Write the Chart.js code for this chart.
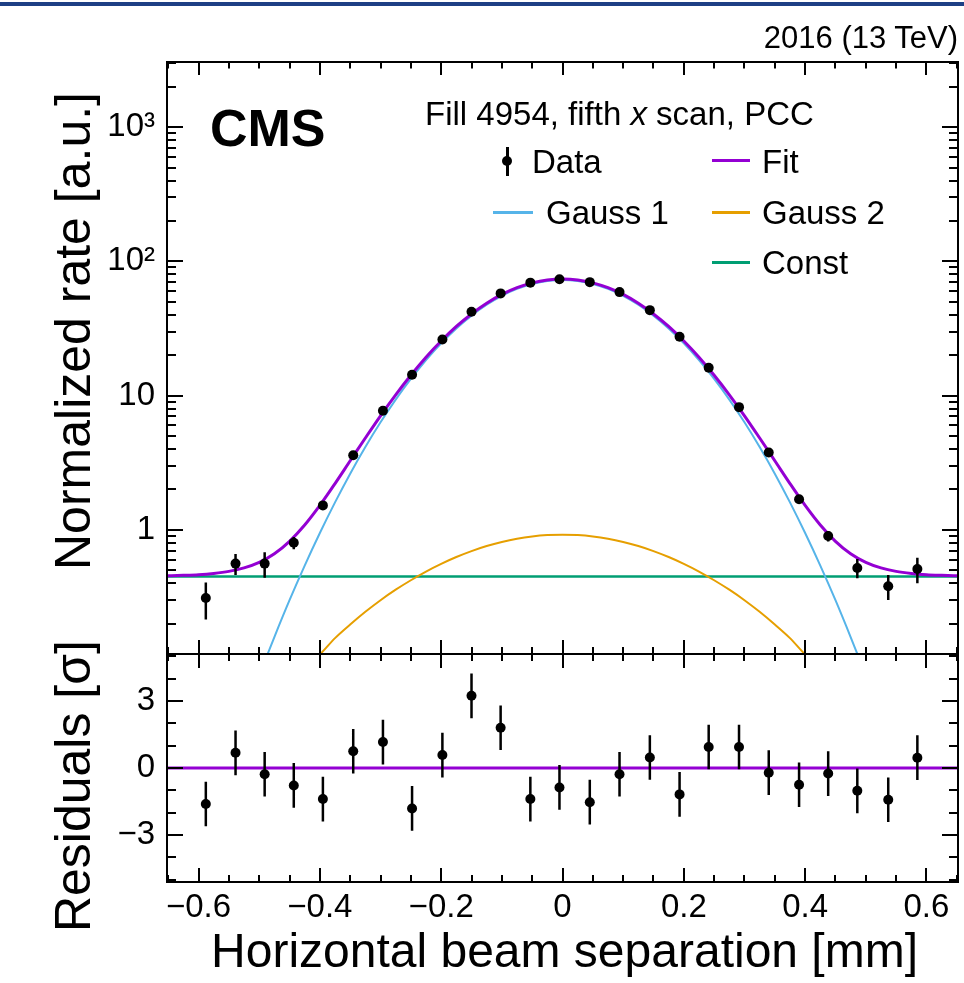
<!DOCTYPE html>
<html>
<head>
<meta charset="utf-8">
<script src="https://cdn.jsdelivr.net/npm/chart.js@4.4.0/dist/chart.umd.min.js"></script>
<style>
  html, body { margin: 0; padding: 0; background: #fff; }
  #wrap { position: relative; width: 964px; height: 983px; overflow: hidden;
          font-family: "Liberation Sans", Arial, Helvetica, sans-serif; color: #000; }
  canvas { position: absolute; left: 0; }
  .txt { position: absolute; white-space: nowrap; line-height: 1; }
  .ln { position: absolute; height: 3px; }
  .ytitle { position: absolute; white-space: nowrap; line-height: 1; font-size: 50px;
            transform-origin: left top; transform: rotate(-90deg) translateX(-100%); }
</style>
</head>
<body>
<div id="wrap">
  <div style="position:absolute;left:0;top:2px;width:964px;height:4px;background:#1d3f85"></div>
  <canvas id="top" width="964" height="660" style="top:0"></canvas>
  <canvas id="bot" width="964" height="335" style="top:648px"></canvas>

  <div class="txt" style="left:0;width:958px;text-align:right;top:22px;font-size:31px">2016 (13 TeV)</div>
  <div class="txt" style="left:210px;top:102px;font-size:52px;font-weight:bold">CMS</div>
  <div class="txt" style="left:425px;top:97px;font-size:33px">Fill 4954, fifth <i>x</i> scan, PCC</div>

  <!-- legend -->
  <div style="position:absolute;left:506px;top:147px;width:3px;height:29px;background:#000"></div>
  <div style="position:absolute;left:502px;top:156px;width:10px;height:10px;border-radius:50%;background:#000"></div>
  <div class="txt" style="left:532px;top:145px;font-size:33px">Data</div>
  <div class="ln" style="left:712px;top:159px;width:38px;background:#9400D3"></div>
  <div class="txt" style="left:762px;top:145px;font-size:33px">Fit</div>
  <div class="ln" style="left:493px;top:211px;width:40px;background:#56B4E9"></div>
  <div class="txt" style="left:546px;top:196px;font-size:33px">Gauss 1</div>
  <div class="ln" style="left:712px;top:211px;width:38px;background:#E69F00"></div>
  <div class="txt" style="left:762px;top:196px;font-size:33px">Gauss 2</div>
  <div class="ln" style="left:712px;top:261px;width:38px;background:#009E73"></div>
  <div class="txt" style="left:762px;top:246px;font-size:33px">Const</div>

  <div class="ytitle" style="left:48px;top:92px">Normalized rate [a.u.]</div>
  <div class="ytitle" style="left:48px;top:640px">Residuals [σ]</div>
  <div class="txt" style="left:0;width:918px;text-align:right;top:927px;font-size:48px">Horizontal beam separation [mm]</div>
</div>

<script>
// measured points (x in mm)
const dataX = [-0.588, -0.539, -0.491, -0.443, -0.395, -0.345, -0.296, -0.248, -0.198, -0.150, -0.102, -0.053,
               -0.005, 0.045, 0.094, 0.144, 0.193, 0.241, 0.291, 0.340, 0.390, 0.438, 0.486, 0.537, 0.585];
const dataY = [0.31, 0.56, 0.56, 0.80, 1.52, 3.59, 7.7, 14.3, 26.2, 42.1, 57.7, 69.4,
               73.5, 70.0, 59.0, 43.3, 27.4, 16.1, 8.2, 3.77, 1.69, 0.90, 0.52, 0.38, 0.51];
const dataErr = [0.095, 0.10, 0.12, 0.085, 0.09, 0.12, 0.18, 0.25, 0.35, 0.45, 0.55, 0.6,
                 0.6, 0.6, 0.55, 0.45, 0.35, 0.25, 0.18, 0.12, 0.09, 0.08, 0.085, 0.08, 0.11];
const residY = [-1.61, 0.68, -0.28, -0.78, -1.39, 0.75, 1.16, -1.81, 0.58, 3.23, 1.80, -1.39,
                -0.87, -1.53, -0.28, 0.47, -1.18, 0.94, 0.94, -0.21, -0.75, -0.25, -1.02, -1.42, 0.46];
const residErr = [1, 1, 1, 1, 1, 1, 1, 1, 1, 1, 1, 1, 1, 1, 1, 1, 1, 1, 1, 1, 1, 1, 1, 1, 1];

// curves
const curveX = [-0.655, -0.625, -0.6, -0.575, -0.55, -0.525, -0.5, -0.475, -0.45, -0.425, -0.4, -0.375, -0.35,
                -0.325, -0.3, -0.275, -0.25, -0.225, -0.2, -0.175, -0.15, -0.125, -0.1, -0.075, -0.05, -0.025, 0,
                0.025, 0.05, 0.075, 0.1, 0.125, 0.15, 0.175, 0.2, 0.225, 0.25, 0.275, 0.3, 0.325,
                0.35, 0.375, 0.4, 0.425, 0.45, 0.475, 0.5, 0.525, 0.55, 0.575, 0.6, 0.625, 0.655];
const fitY = [0.454, 0.458, 0.463, 0.473, 0.490, 0.520, 0.572, 0.663, 0.821, 1.086, 1.52, 2.21, 3.27,
              4.83, 7.07, 10.13, 14.17, 19.32, 25.51, 32.71, 40.54, 48.72, 56.66, 63.63, 69.14, 72.74, 73.97,
              72.74, 69.14, 63.63, 56.66, 48.72, 40.54, 32.71, 25.51, 19.32, 14.17, 10.13, 7.07, 4.83,
              3.27, 2.21, 1.52, 1.086, 0.821, 0.663, 0.572, 0.520, 0.490, 0.473, 0.463, 0.458, 0.454];
const gauss1Y = [null, null, null, null, null, null, 0.0823, 0.159, 0.299, 0.541, 0.946, 1.600, 2.62,
                 4.135, 6.32, 9.33, 13.3, 18.38, 24.5, 31.63, 39.4, 47.52, 55.4, 62.33, 67.8, 71.38, 72.6,
                 71.38, 67.8, 62.33, 55.4, 47.52, 39.4, 31.63, 24.5, 18.38, 13.3, 9.33, 6.32, 4.135,
                 2.62, 1.600, 0.946, 0.541, 0.299, 0.159, 0.0823, null, null, null, null, null, null];
const gauss2Y = [null, null, null, null, null, null, null, null, 0.0732, 0.0962, 0.118, 0.156, 0.197,
                 0.245, 0.299, 0.358, 0.421, 0.489, 0.558, 0.627, 0.694, 0.757, 0.812, 0.858, 0.892, 0.913, 0.92,
                 0.913, 0.892, 0.858, 0.812, 0.757, 0.694, 0.627, 0.558, 0.489, 0.421, 0.358, 0.299, 0.245,
                 0.197, 0.156, 0.118, 0.0962, 0.0732, null, null, null, null, null, null, null, null];
const constX = [-0.655, 0.655];
const constY = [0.449, 0.449];
const zeroY = [0, 0];

// axes
const xMin = -0.652, xMax = 0.652;
const xTicks = [-0.6, -0.4, -0.2, 0, 0.2, 0.4, 0.6];
const xTickLabels = ['\u22120.6', '\u22120.4', '\u22120.2', '0', '0.2', '0.4', '0.6'];
const yTicks = [1, 10, 100, 1000];
const yTickLabels = ['1', '10', '10\u00b2', '10\u00b3'];
const resTicks = [-3, 0, 3];
const resTickLabels = ['\u22123', '0', '3'];

const FONT = '"Liberation Sans", Arial, Helvetica, sans-serif';
const PURPLE = '#9400D3', BLUE = '#56B4E9', ORANGE = '#E69F00', GREEN = '#009E73';

function pts(xs, ys) {
    return xs.map((x, i) => ({ x: x, y: ys[i] }));
}

// minor tick positions
const xMinor = [];
for (let k = -13; k <= 13; k++) {
    if (k % 4 !== 0) xMinor.push(k * 0.05);
}
const yMinor = [];
for (const d of [0.1, 1, 10, 100, 1000]) {
    for (let m = 2; m <= 9; m++) yMinor.push(m * d);
}
const resMinor = [-5, -4, -2, -1, 1, 2, 4, 5];

// ROOT style frame: ticks on all four sides, pointing inwards
function makeFrame(o) {
    return {
        id: 'frame',
        afterDatasetsDraw(chart) {
            const { ctx, chartArea: a } = chart;
            const xs = chart.scales.x, ys = chart.scales.y;
            ctx.save();
            ctx.strokeStyle = '#000';
            ctx.lineWidth = 2;
            ctx.beginPath();
            const xt = (vals, lenT, lenB) => vals.forEach(v => {
                const p = Math.round(xs.getPixelForValue(v));
                if (p < a.left || p > a.right) return;
                ctx.moveTo(p, a.top); ctx.lineTo(p, a.top + lenT);
                ctx.moveTo(p, a.bottom); ctx.lineTo(p, a.bottom - lenB);
            });
            const yt = (vals, len) => vals.forEach(v => {
                const p = Math.round(ys.getPixelForValue(v));
                if (p < a.top || p > a.bottom) return;
                ctx.moveTo(a.left, p); ctx.lineTo(a.left + len, p);
                ctx.moveTo(a.right, p); ctx.lineTo(a.right - len, p);
            });
            xt(xTicks, o.xTop, o.xBot);
            xt(xMinor, o.xTop / 2, o.xBot / 2);
            yt(o.yMajor, o.yLen);
            yt(o.yMinor, o.yMinLen);
            ctx.stroke();
            ctx.strokeRect(a.left, a.top, a.right - a.left, a.bottom - a.top);
            ctx.restore();
        }
    };
}

const errorBars = {
    id: 'errorBars',
    afterDatasetsDraw(chart) {
        const { ctx } = chart;
        const xs = chart.scales.x, ys = chart.scales.y;
        chart.data.datasets.forEach(ds => {
            if (!ds.errors) return;
            ctx.save();
            ctx.strokeStyle = '#000';
            ctx.lineWidth = 2.5;
            ctx.beginPath();
            ds.data.forEach((p, j) => {
                const px = xs.getPixelForValue(p.x);
                ctx.moveTo(px, ys.getPixelForValue(p.y + ds.errors[j]));
                ctx.lineTo(px, ys.getPixelForValue(p.y - ds.errors[j]));
            });
            ctx.stroke();
            ctx.restore();
        });
    }
};

function lineSet(label, xs, ys, color, width) {
    return {
        label: label, data: pts(xs, ys), showLine: true, borderColor: color, borderWidth: width,
        pointRadius: 0, cubicInterpolationMode: 'monotone', clip: 0, spanGaps: false
    };
}

function yAxisTicks(labels) {
    return {
        padding: 12, color: '#000', autoSkip: false,
        font: { family: FONT, size: 33 },
        callback: (v, i) => labels[i]
    };
}

// fixed axis box so both panels share the same plot area
function fixY(s) {
    s.width = 167;
    s.paddingTop = 0;
    s.paddingBottom = 0;
}

new Chart(document.getElementById('top'), {
    type: 'scatter',
    data: {
        datasets: [
            { label: 'Data', data: pts(dataX, dataY), errors: dataErr, pointRadius: 5,
              pointBackgroundColor: '#000', pointBorderColor: '#000', pointBorderWidth: 0, showLine: false, clip: 0 },
            lineSet('Fit', curveX, fitY, PURPLE, 3),
            lineSet('Gauss 1', curveX, gauss1Y, BLUE, 2),
            lineSet('Gauss 2', curveX, gauss2Y, ORANGE, 2),
            lineSet('Const', constX, constY, GREEN, 2.5)
        ]
    },
    options: {
        responsive: false,
        animation: false,
        layout: { padding: { top: 62, right: 6, bottom: 6, left: 0 } },
        plugins: { legend: { display: false }, tooltip: { enabled: false } },
        scales: {
            x: { type: 'linear', min: xMin, max: xMax, display: false },
            y: {
                type: 'logarithmic', min: 0.1188, max: 3055,
                grid: { display: false, drawTicks: false },
                border: { display: false },
                afterBuildTicks: s => { s.ticks = yTicks.map(v => ({ value: v })); },
                afterFit: fixY,
                ticks: yAxisTicks(yTickLabels)
            }
        }
    },
    plugins: [errorBars, makeFrame({ xTop: 13, xBot: 14, yMajor: yTicks, yMinor: yMinor, yLen: 16, yMinLen: 9 })]
});

new Chart(document.getElementById('bot'), {
    type: 'scatter',
    data: {
        datasets: [
            { label: 'Residuals', data: pts(dataX, residY), errors: residErr, pointRadius: 5,
              pointBackgroundColor: '#000', pointBorderColor: '#000', pointBorderWidth: 0, showLine: false, clip: 0 },
            lineSet('Zero', constX, zeroY, PURPLE, 3)
        ]
    },
    options: {
        responsive: false,
        animation: false,
        layout: { padding: { top: 6, right: 6, bottom: 0, left: 0 } },
        plugins: { legend: { display: false }, tooltip: { enabled: false } },
        scales: {
            x: {
                type: 'linear', min: xMin, max: xMax,
                grid: { display: false, drawTicks: false },
                border: { display: false },
                afterBuildTicks: s => { s.ticks = xTicks.map(v => ({ value: v })); },
                afterFit: s => { s.height = 101; s.paddingLeft = 0; s.paddingRight = 0; },
                ticks: {
                    padding: 6, color: '#000', autoSkip: false, maxRotation: 0,
                    font: { family: FONT, size: 33 },
                    callback: (v, i) => xTickLabels[i]
                }
            },
            y: {
                type: 'linear', min: -5.1, max: 5.1,
                grid: { display: false, drawTicks: false },
                border: { display: false },
                afterBuildTicks: s => { s.ticks = resTicks.map(v => ({ value: v })); },
                afterFit: fixY,
                ticks: yAxisTicks(resTickLabels)
            }
        }
    },
    plugins: [errorBars, makeFrame({ xTop: 14, xBot: 14, yMajor: resTicks, yMinor: resMinor, yLen: 16, yMinLen: 9 })]
});
</script>
</body>
</html>
